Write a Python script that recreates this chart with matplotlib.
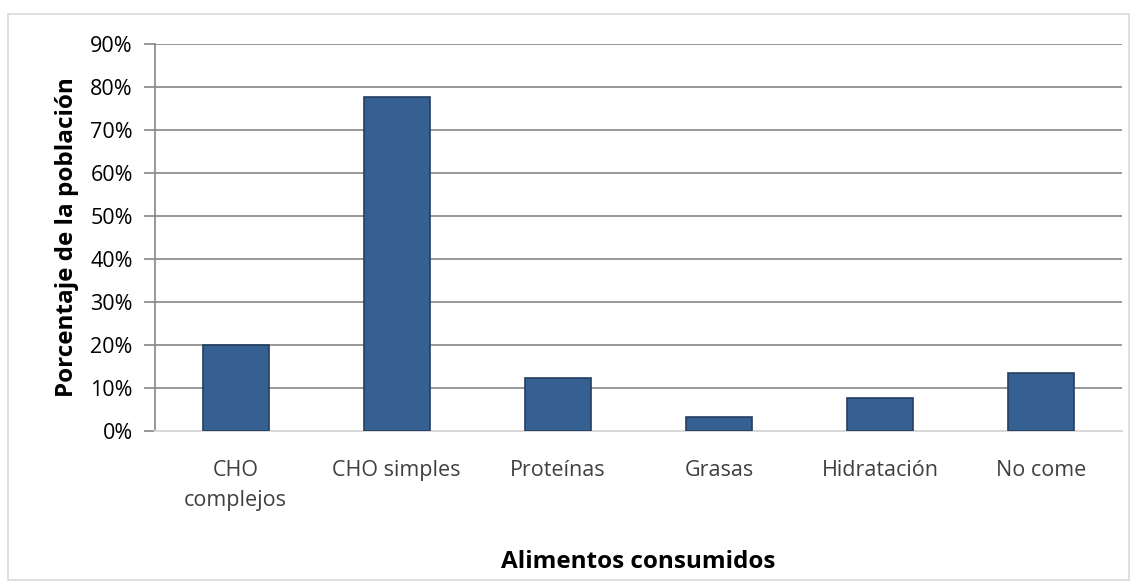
import matplotlib.pyplot as plt
from matplotlib.patches import Rectangle
from matplotlib.ticker import FuncFormatter, MultipleLocator

plt.rcParams['font.family'] = ['Open Sans', 'DejaVu Sans']

categories = ['CHO\ncomplejos', 'CHO simples', 'Proteínas', 'Grasas', 'Hidratación', 'No come']
values = [20.1, 77.6, 12.3, 3.3, 7.7, 13.4]

fig = plt.figure(figsize=(11.37, 5.83), dpi=100)
ax = fig.add_axes([0.1363, 0.2607, 0.8505, 0.6643])

# outer chart border
fig.patches.append(Rectangle((8 / 1137, 1 - 580 / 583), 1121 / 1137, 566 / 583,
                             transform=fig.transFigure, fill=False,
                             edgecolor='#d9d9d9', linewidth=1.2))

x = range(len(categories))
ax.bar(x, values, width=0.41, color='#366092', edgecolor='#243f60', linewidth=1.2, zorder=3)

ax.set_ylim(0, 90)
ax.set_xlim(-0.5, len(categories) - 0.5)
ax.yaxis.set_major_locator(MultipleLocator(10))
ax.yaxis.set_major_formatter(FuncFormatter(lambda v, p: f'{v:.0f}%'))
ax.grid(axis='y', color='#868686', linewidth=1.2, zorder=0)

ax.set_xticks(list(x))
ax.set_xticklabels(categories, fontsize=15.5, color='#404040', linespacing=1.55)
ax.tick_params(axis='x', length=0, pad=21)
ax.tick_params(axis='y', labelsize=15.5, colors='#868686', labelcolor='black', length=8, width=1.2, pad=8)

for s in ['top', 'right']:
    ax.spines[s].set_visible(False)
ax.spines['left'].set_color('#868686')
ax.spines['left'].set_linewidth(1.2)
ax.spines['bottom'].set_color('#d9d9d9')
ax.spines['bottom'].set_linewidth(1.5)

ax.set_ylabel('Porcentaje de la población', fontsize=17.5, fontweight='bold', labelpad=8)
ax.set_xlabel('Alimentos consumidos', fontsize=17.5, fontweight='bold', labelpad=28)

fig.savefig('out.png', dpi=100)
